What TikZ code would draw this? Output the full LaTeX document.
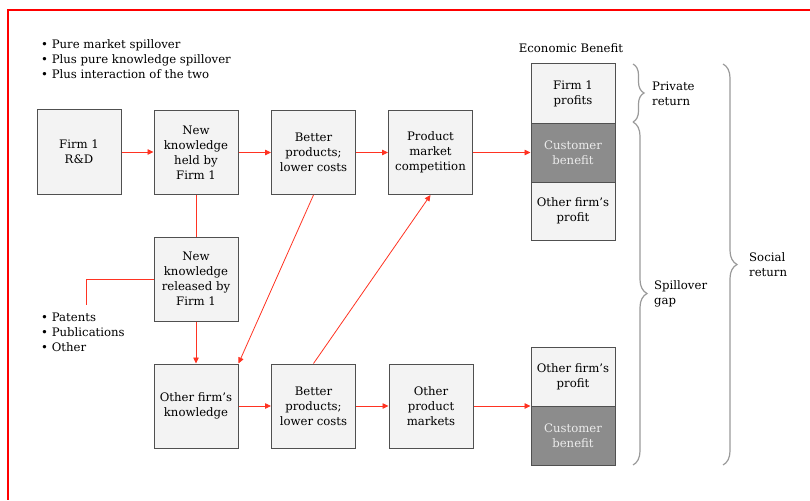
\documentclass[tikz,border=0pt]{standalone}
\usepackage{fontspec}
\setmainfont{DejaVu Serif}
\usetikzlibrary{arrows.meta,decorations.pathreplacing}
\definecolor{boxfill}{HTML}{F3F3F3}
\definecolor{boxline}{HTML}{505050}
\definecolor{darkfill}{HTML}{8C8C8C}
\definecolor{arrowred}{HTML}{FF3322}
\definecolor{bracegray}{HTML}{9A9A9A}
\begin{document}
\begin{tikzpicture}[x=1pt,y=-1pt,
  every node/.style={font=\fontsize{11.7}{15}\selectfont},
  box/.style={draw=boxline,fill=boxfill,line width=1pt,minimum width=84pt,minimum height=84pt,inner sep=0pt,align=center},
  cell/.style={draw=boxline,fill=boxfill,line width=1pt,minimum width=84pt,minimum height=59pt,inner sep=0pt,align=center},
  darkcell/.style={cell,fill=darkfill,text=white!92!black},
  flow/.style={draw=arrowred,line width=0.8pt,-{Triangle[length=6pt,width=5.5pt]}},
  plain/.style={draw=arrowred,line width=0.8pt},
  bracestyle/.style={draw=bracegray,line width=1.2pt,decorate,decoration={brace,amplitude=14pt}},
  lbl/.style={align=left,anchor=west,inner sep=0pt}]
\useasboundingbox (0,0) rectangle (810,500);
% red frame
\draw[red,line width=2pt] (810,10) -- (8,10) -- (8,500);
% bullets top
\node[lbl,anchor=north west] (top) at (41,39) {• Pure market spillover\\• Plus pure knowledge spillover\\• Plus interaction of the two};
% boxes
\node[box] (rd) at (79,152) {Firm 1\\R\&D};
\node[box] (nkh) at (196,152.5) {New\\knowledge\\held by\\Firm 1};
\node[box] (bp1) at (313.5,152.5) {Better\\products;\\lower costs};
\node[box] (pmc) at (430.5,152.5) {Product\\market\\competition};
\node[box] (nkr) at (196,279) {New\\knowledge\\released by\\Firm 1};
\node[box] (ofk) at (196,406) {Other firm’s\\knowledge};
\node[box] (bp2) at (313.5,406) {Better\\products;\\lower costs};
\node[box] (opm) at (431,406) {Other\\product\\markets};
% right column
\node (eb) at (571,48) {Economic Benefit};
\node[cell] (f1p) at (573,93.5) {Firm 1\\profits};
\node[darkcell] (cb1) at (573,152.5) {Customer\\benefit};
\node[cell,minimum height=58pt] (ofp1) at (573,211) {Other firm’s\\profit};
\node[cell] (ofp2) at (573,376.5) {Other firm’s\\profit};
\node[darkcell] (cb2) at (573,435.5) {Customer\\benefit};
% patents
\coordinate (pt) at (86,305);
\node[lbl,anchor=north west] (pat) at (41,313) {• Patents\\• Publications\\• Other};
% connectors
\draw[flow] (rd.east) -- (nkh.west |- rd.east);
\draw[flow] (nkh.east) -- (bp1.west);
\draw[flow] (bp1.east) -- (pmc.west);
\draw[flow] (pmc.east) -- (pmc.east -| cb1.west);
\draw[plain] (nkh.south) -- (nkr.north);
\draw[flow] (nkr.south) -- (ofk.north);
\draw[plain] (nkr.west) -| (pt);
\draw[flow] (bp1.south) -- (ofk.north east);
\draw[flow] (bp2.north) -- (pmc.south);
\draw[flow] (ofk.east) -- (bp2.west);
\draw[flow] (bp2.east) -- (opm.west);
\draw[flow] (opm.east) -- (opm.east -| ofp2.west);
% braces
\coordinate (b1t) at (633,64);
\coordinate (b1b) at (633,122);
\coordinate (b2b) at (633,465);
\coordinate (b3t) at (723,64);
\coordinate (b3b) at (723,465);
\draw[bracestyle,decoration={amplitude=11pt}] (b1t) -- (b1b);
\draw[bracestyle] (b1b) -- (b2b);
\draw[bracestyle] (b3t) -- (b3b);
\node[lbl] (pr) at (652,94) {Private\\return};
\node[lbl] (sg) at (654,294) {Spillover\\gap};
\node[lbl] (sr) at (749,265) {Social\\return};
\end{tikzpicture}
\end{document}
